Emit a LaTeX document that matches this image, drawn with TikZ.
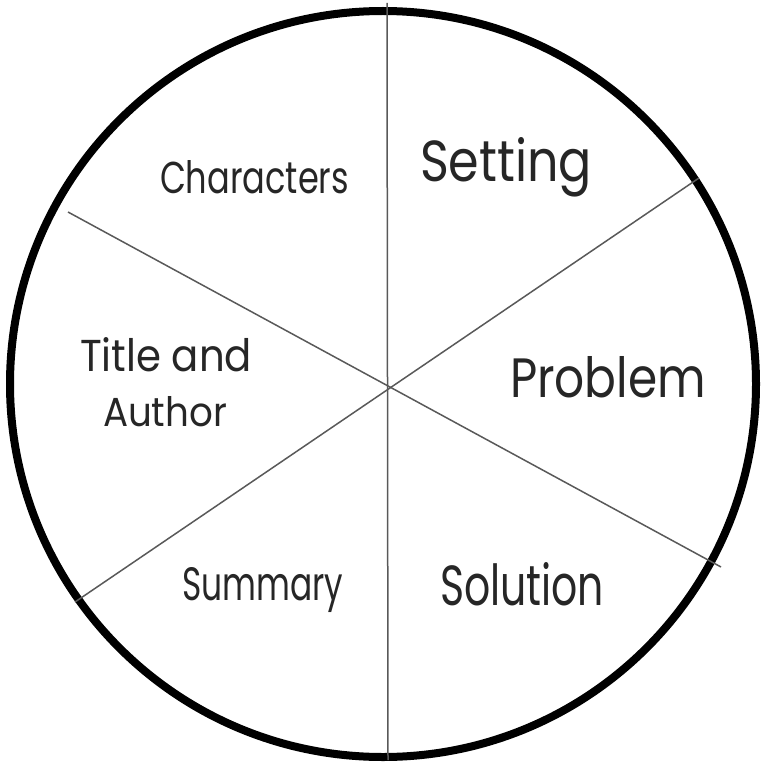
\documentclass[tikz,border=0pt]{standalone}
\usepackage{fontspec}
\setmainfont{Poppins}
\usepackage{graphicx}
\begin{document}
\begin{tikzpicture}[x=1pt,y=-1pt,
  rim/.style={line width=8pt,black},
  spoke/.style={line width=1.5pt,draw=black!65},
  lbl/.style={anchor=base west,inner sep=0pt,outer sep=0pt,text=black!85}]
\useasboundingbox (0,0) rectangle (761,765);
\draw[rim] (383,384) circle[radius=373];
\coordinate (vt) at (387,3);
\coordinate (vb) at (388,760);
\coordinate (d1a) at (68,212);
\coordinate (d1b) at (721,567);
\coordinate (d2a) at (75,602);
\coordinate (d2b) at (699,178);
\draw[spoke] (vt) -- (vb);
\draw[spoke] (d1a) -- (d1b);
\draw[spoke] (d2a) -- (d2b);
\node[lbl] (chars) at (160,193) {\resizebox{189pt}{33pt}{Characters}};
\node[lbl] (setting) at (420,181) {\resizebox{172pt}{44pt}{Setting}};
\node[lbl] (problem) at (510,397) {\resizebox{196pt}{41pt}{Problem}};
\node[lbl] (title) at (80,371) {\resizebox{172pt}{34pt}{Title and}};
\node[lbl] (author) at (103,426) {\resizebox{124pt}{30pt}{Author}};
\node[lbl] (summary) at (182,600) {\resizebox{161pt}{33pt}{Summary}};
\node[lbl] (solution) at (440,605) {\resizebox{164pt}{43pt}{Solution}};
\end{tikzpicture}
\end{document}
